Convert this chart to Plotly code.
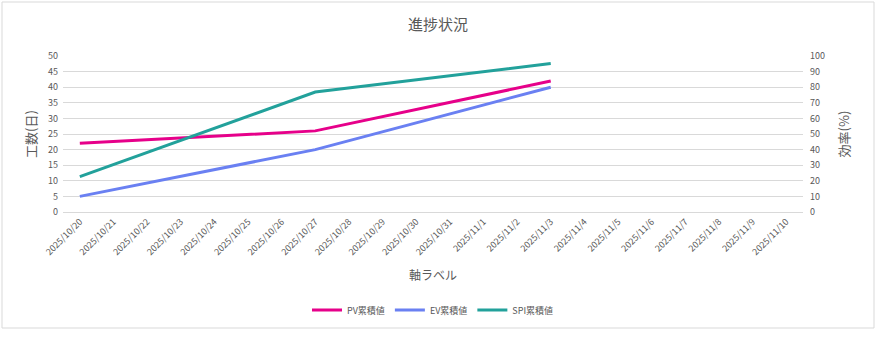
import plotly.graph_objects as go

categories = ["2025/10/20", "2025/10/21", "2025/10/22", "2025/10/23", "2025/10/24",
              "2025/10/25", "2025/10/26", "2025/10/27", "2025/10/28", "2025/10/29",
              "2025/10/30", "2025/10/31", "2025/11/1", "2025/11/2", "2025/11/3",
              "2025/11/4", "2025/11/5", "2025/11/6", "2025/11/7", "2025/11/8",
              "2025/11/9", "2025/11/10"]
point_dates = ["2025/10/20", "2025/10/27", "2025/11/3"]
pv_values = [22, 26, 42]
ev_values = [5, 20, 40]
spi_values = [22.7, 76.9, 95.2]

FONT = "Noto Sans CJK JP, Noto Sans, sans-serif"
GRAY = "#595959"

fig = go.Figure()
fig.add_trace(go.Scatter(x=point_dates, y=pv_values, name="PV累積値", mode="lines",
                         line=dict(color="#E6008A", width=3)))
fig.add_trace(go.Scatter(x=point_dates, y=ev_values, name="EV累積値", mode="lines",
                         line=dict(color="#6A80F2", width=3)))
fig.add_trace(go.Scatter(x=point_dates, y=spi_values, name="SPI累積値", mode="lines",
                         line=dict(color="#22A19B", width=3), yaxis="y2"))

L, R, T, B = 63, 74, 56, 125
W, H = 877, 337
pw, ph = W - L - R, H - T - B

fig.update_layout(
    width=W, height=H,
    margin=dict(l=L, r=R, t=T, b=B),
    paper_bgcolor="white", plot_bgcolor="white",
    font=dict(family=FONT, color=GRAY, size=10),
    title=dict(text="進捗状況", x=438 / W, xanchor="center", y=1 - 25 / H, yanchor="middle",
               font=dict(size=15, color=GRAY, family=FONT)),
    xaxis=dict(type="category", categoryorder="array", categoryarray=categories,
               tickvals=categories, ticktext=categories,
               range=[-0.5, len(categories) - 0.5], tickangle=-45,
               tickfont=dict(size=9, color=GRAY), showgrid=False, zeroline=False,
               showline=True, linecolor="#D9D9D9", linewidth=1, ticks="",
               title=dict(text="軸ラベル", font=dict(size=12, color=GRAY), standoff=14)),
    yaxis=dict(range=[0, 50], dtick=5, showgrid=True, gridcolor="#D9D9D9", gridwidth=1,
               zeroline=False, tickfont=dict(size=9, color=GRAY), ticks="",
               ticklabelstandoff=4,
               title=dict(text="工数(日)", font=dict(size=13, color=GRAY), standoff=8)),
    yaxis2=dict(range=[0, 100], dtick=10, overlaying="y", side="right", showgrid=False,
                zeroline=False, tickfont=dict(size=9, color=GRAY), ticks="",
                ticklabelstandoff=6,
                title=dict(text="効率(%)", font=dict(size=13, color=GRAY), standoff=15)),
    legend=dict(orientation="h", x=0.5, xanchor="center", y=(212 - 310) / ph, yanchor="middle",
                font=dict(size=9, color=GRAY), itemwidth=30, tracegroupgap=0),
    showlegend=True,
)

fig.add_shape(type="rect", xref="paper", yref="paper",
              x0=(2 - L) / pw, x1=(874 - L) / pw, y0=(H - B - 328) / ph, y1=(H - B - 2) / ph,
              line=dict(color="#D9D9D9", width=1), fillcolor="rgba(0,0,0,0)", layer="below")

fig.write_html("out.html")
